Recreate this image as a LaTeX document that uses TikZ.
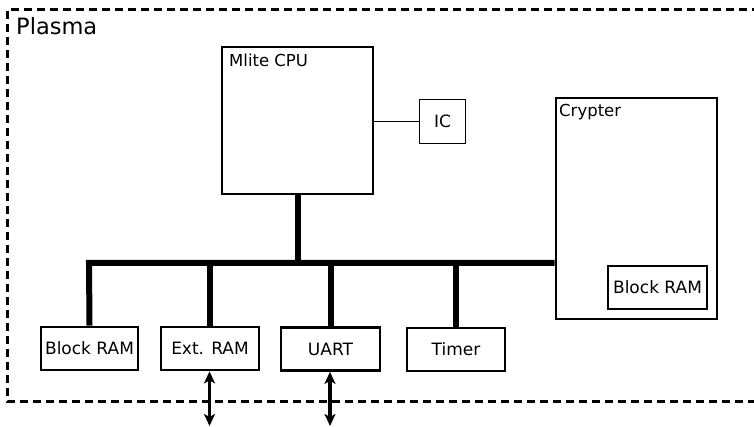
\documentclass[tikz,border=0pt]{standalone}
\usepackage{fontspec}
\setmainfont{DejaVu Sans}
\usetikzlibrary{arrows.meta}
\begin{document}
\begin{tikzpicture}[x=1pt,y=-1pt,
  box/.style={draw,line width=2.8pt,inner sep=0pt,font=\fontsize{17}{20}\selectfont},
  thinbox/.style={draw,line width=1.2pt,inner sep=0pt,font=\fontsize{17}{20}\selectfont},
  lbl/.style={inner sep=0pt,anchor=base west,font=\fontsize{16.5}{19}\selectfont},
  bus/.style={line width=6pt},
  io/.style={line width=3.5pt,{Stealth[length=12pt,width=11pt,inset=3pt]}-{Stealth[length=12pt,width=11pt,inset=3pt]}},
  frame/.style={line width=3pt,dash pattern=on 8pt off 5pt}]
\useasboundingbox (0,0) rectangle (754,427);
% outer dashed frame
\draw[frame] (760,10) -- (7,10) -- (7,401) -- (760,401);
\node[inner sep=0pt,anchor=base west,font=\fontsize{22.5}{27}\selectfont] (plasma) at (16,35) {Plasma};
% CPU
\node[box,minimum width=151pt,minimum height=147pt] (cpu) at (297.5,120.5) {};
\node[lbl] (cpulbl) at (229,66.5) {Mlite CPU};
% IC
\node[thinbox,minimum width=46pt,minimum height=44pt] (ic) at (442.5,121.5) {IC};
\draw[line width=1.2pt] (cpu.east |- ic.west) -- (ic.west);
% Crypter
\node[box,minimum width=161pt,minimum height=221pt] (cry) at (636.5,208.5) {};
\node[lbl] (crylbl) at (559,116.5) {Crypter};
\node[box,minimum width=99pt,minimum height=43pt] (cram) at (657.5,287.5) {Block RAM};
% bottom peripherals
\node[box,minimum width=97pt,minimum height=43pt] (bram) at (89.5,348.5) {Block RAM};
\node[box,minimum width=98pt,minimum height=43pt] (eram) at (210,348.5) {Ext. RAM};
\node[box,minimum width=99pt,minimum height=43pt] (uart) at (330.5,349) {UART};
\node[box,minimum width=98pt,minimum height=43pt] (timer) at (456,349.5) {Timer};
% bus
\coordinate (busl) at (89,263);
\draw[bus] (bram.north) -- (busl) -- (busl -| cry.west);
\draw[bus] (cpu.south -| 298,0) -- (298,263);
\draw[bus] (eram.north) -- (eram.north |- busl);
\draw[bus] (uart.north) -- (uart.north |- busl);
\draw[bus] (timer.north) -- (timer.north |- busl);
% external I/O
\coordinate (eio) at (209.5,426);
\coordinate (uio) at (330,426);
\draw[io] (eram.south -| eio) -- (eio);
\draw[io] (uart.south -| uio) -- (uio);
\end{tikzpicture}
\end{document}
